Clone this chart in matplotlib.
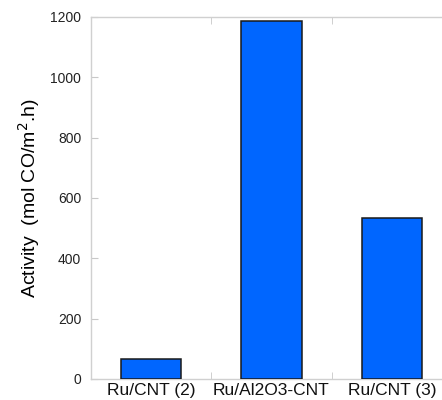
import matplotlib
matplotlib.use("Agg")
import matplotlib.pyplot as plt
import numpy as np

categories = ["Ru/CNT (2)", "Ru/Al2O3-CNT", "Ru/CNT (3)"]
activity = [65, 1186, 533]

plt.rcParams['font.family'] = ['Liberation Sans', 'DejaVu Sans']

fig = plt.figure(figsize=(4.42, 4.0), dpi=100)
ax = fig.add_axes([91/442, 21/400, 361/442, 362/400])

x = np.arange(len(categories))
ax.bar(x, activity, width=0.5, color='#0066FF', edgecolor='#1a1a1a', linewidth=1.1, zorder=3)

ax.set_xlim(-0.5, 2.5)
ax.set_ylim(0, 1200)
ax.set_yticks([0, 200, 400, 600, 800, 1000, 1200])
ax.set_xticks(x)
ax.set_xticklabels(categories, fontsize=12.5)
ax.set_xticks([0.5, 1.5], minor=True)

for s in ax.spines.values():
    s.set_color('#d0d0d0')
    s.set_linewidth(1.0)

ax.tick_params(axis='y', direction='in', length=5, color='#c8c8c8', labelsize=10, pad=7, labelcolor='#222222')
ax.tick_params(axis='x', which='major', length=0, pad=3, labelcolor='#111111')
ax.tick_params(axis='x', which='minor', direction='in', length=5, color='#c8c8c8', top=True, bottom=True)

ax.set_ylabel(r"Activity  (mol CO/m$^2$.h)", fontsize=14, labelpad=6)

fig.savefig("out.png", dpi=100)
